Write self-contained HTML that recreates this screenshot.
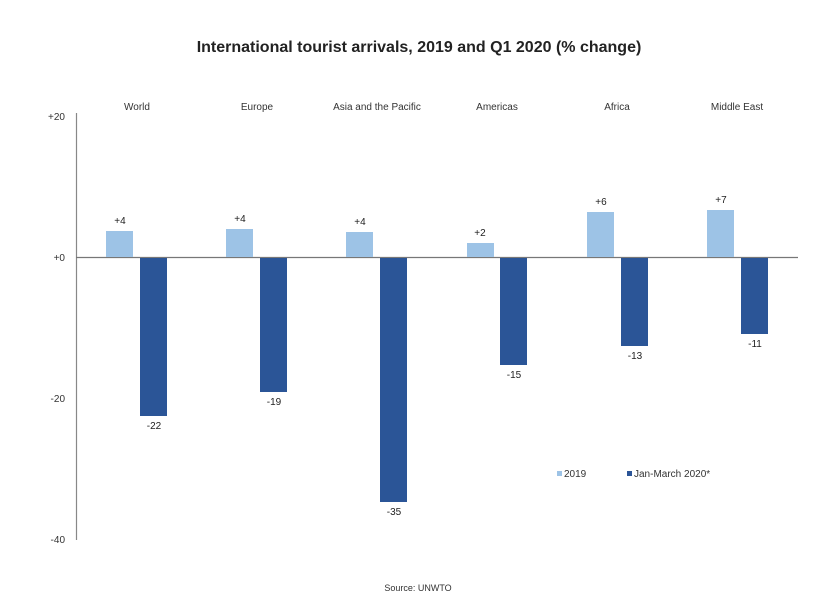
<!DOCTYPE html>
<html><head><meta charset="utf-8"><style>
body{margin:0;background:#fff;}
svg text{font-family:"Liberation Sans",Arial,sans-serif;}
</style></head><body>
<svg width="837" height="595" viewBox="0 0 837 595" xmlns="http://www.w3.org/2000/svg">
<rect width="837" height="595" fill="#fff"/>
<text x="419" y="52" text-anchor="middle" font-size="16" font-weight="bold" fill="#222">International tourist arrivals, 2019 and Q1 2020 (% change)</text>
<line x1="76.5" y1="113" x2="76.5" y2="540" stroke="#888" stroke-width="1.2"/>
<line x1="76" y1="257.5" x2="798" y2="257.5" stroke="#777" stroke-width="1.2"/>
<g font-size="10" fill="#333" text-anchor="end">
<text x="65" y="120">+20</text>
<text x="65" y="261">+0</text>
<text x="65" y="402">-20</text>
<text x="65" y="543">-40</text>
</g>
<g font-size="10" fill="#333" text-anchor="middle">
<text x="137" y="110">World</text>
<text x="257" y="110">Europe</text>
<text x="377" y="110">Asia and the Pacific</text>
<text x="497" y="110">Americas</text>
<text x="617" y="110">Africa</text>
<text x="737" y="110">Middle East</text>
</g>
<g fill="#9dc3e6">
<rect x="106" y="231" width="27" height="26"/>
<rect x="226" y="229" width="27" height="28"/>
<rect x="346" y="232" width="27" height="25"/>
<rect x="467" y="243" width="27" height="14"/>
<rect x="587" y="212" width="27" height="45"/>
<rect x="707" y="210" width="27" height="47"/>
</g>
<g fill="#2b5597">
<rect x="140" y="258" width="27" height="158"/>
<rect x="260" y="258" width="27" height="134"/>
<rect x="380" y="258" width="27" height="244"/>
<rect x="500" y="258" width="27" height="107"/>
<rect x="621" y="258" width="27" height="88"/>
<rect x="741" y="258" width="27" height="76"/>
</g>
<g font-size="10" fill="#222" text-anchor="middle">
<text x="120" y="224">+4</text>
<text x="240" y="222">+4</text>
<text x="360" y="225">+4</text>
<text x="480" y="236">+2</text>
<text x="601" y="205">+6</text>
<text x="721" y="203">+7</text>
<text x="154" y="429">-22</text>
<text x="274" y="405">-19</text>
<text x="394" y="515">-35</text>
<text x="514" y="378">-15</text>
<text x="635" y="359">-13</text>
<text x="755" y="347">-11</text>
</g>
<rect x="557" y="471" width="5" height="5" fill="#9dc3e6"/>
<text x="564" y="477" font-size="10" fill="#333">2019</text>
<rect x="627" y="471" width="5" height="5" fill="#2b5597"/>
<text x="634" y="477" font-size="10" fill="#333">Jan-March 2020*</text>
<text x="418" y="591" text-anchor="middle" font-size="9" fill="#333">Source: UNWTO</text>
</svg>
</body></html>
